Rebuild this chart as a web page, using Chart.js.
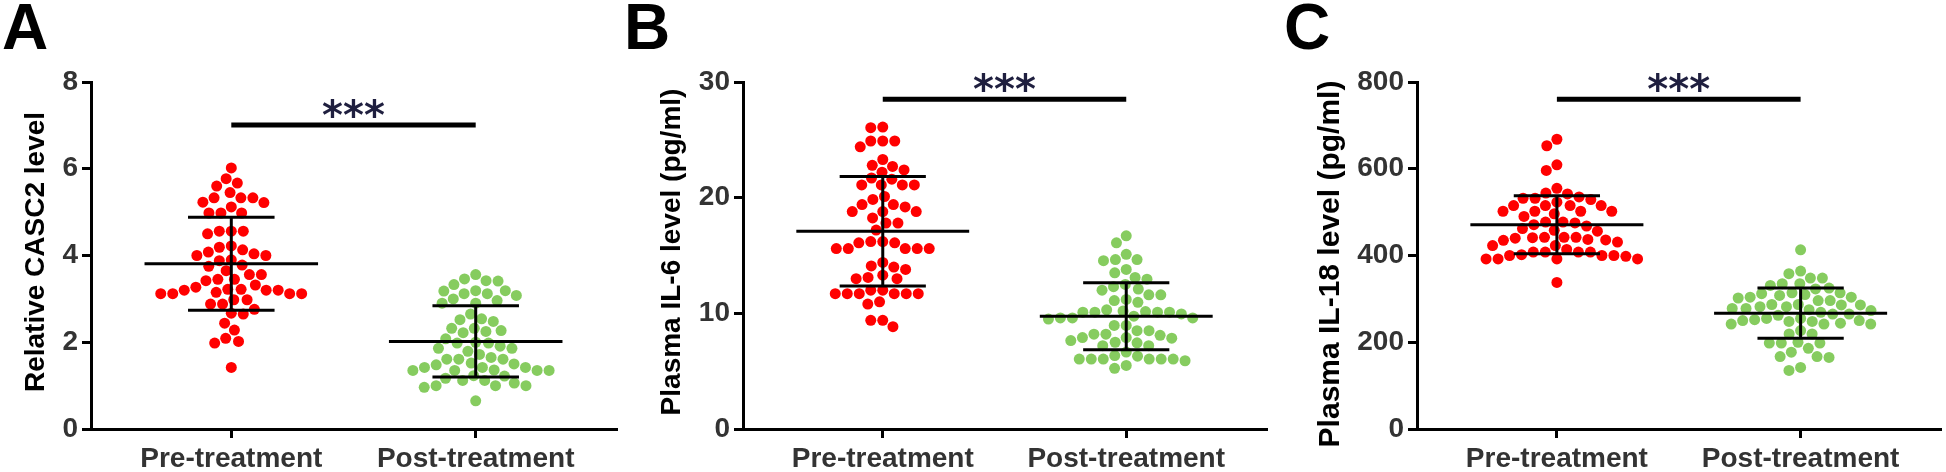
<!DOCTYPE html>
<html>
<head>
<meta charset="utf-8">
<script src="https://cdn.jsdelivr.net/npm/chart.js@4.4.1/dist/chart.umd.min.js"></script>
<style>
  body { margin: 0; background: #fff; width: 1946px; height: 472px; position: relative; overflow: hidden; }
  canvas { position: absolute; top: 0; }
</style>
</head>
<body>
<canvas id="panelA" width="622" height="472" style="left:0px"></canvas>
<canvas id="panelB" width="658" height="472" style="left:622px"></canvas>
<canvas id="panelC" width="666" height="472" style="left:1280px"></canvas>
<script>
// categories
const categories = ['Pre-treatment', 'Post-treatment'];

// A: relative CASC2 level
const casc2Pre = [6.02, 5.77, 5.67, 5.60, 5.45, 5.33, 5.33, 5.33, 5.22, 5.12, 5.23,
  4.98, 4.98, 4.98, 4.56, 4.56, 4.56, 4.50, 4.22, 4.13, 4.19, 4.08, 4.00, 4.04, 4.00,
  3.88, 3.90, 3.78, 3.75, 3.56, 3.56, 3.65, 3.45, 3.42, 3.45, 3.32, 3.27,
  3.22, 3.22, 3.20, 3.12, 3.12, 3.12, 3.12, 3.15, 3.20, 3.20,
  2.98, 2.98, 2.88, 2.88, 2.67, 2.76, 2.65, 2.44, 2.28, 2.02, 2.09, 1.98, 1.42];
const casc2Post = [3.56, 3.46, 3.42, 3.41, 3.33, 3.19, 3.12, 3.08, 3.12, 3.18, 3.19,
  2.96, 3.00, 2.90, 2.90, 2.65, 2.52, 2.54, 2.48, 2.32, 2.27, 2.22, 2.25, 2.32,
  2.08, 1.98, 1.86, 1.91, 1.79, 1.98, 2.00, 1.86,
  1.72, 1.61, 1.61, 1.50, 1.42, 1.42, 1.42, 1.48, 1.52, 1.61, 1.65,
  1.35, 1.35, 1.23, 1.17, 1.12, 1.06, 0.96, 1.12, 1.22, 1.35, 1.35, 1.36,
  1.00, 1.00, 1.00, 0.65];
const casc2Mean = [3.81, 2.02];
const casc2Sd = [1.07, 0.82];

// B: plasma IL-6
const il6Pre = [26.05, 26.1, 24.9, 24.9, 24.9, 24.4, 23.3, 22.7, 22.8, 22.4, 22.2, 21.7, 21.6,
  21.1, 21.1, 21.1, 21.1, 20.1, 19.85, 19.4, 19.4, 19.2, 18.8, 18.8, 18.8, 18.25, 17.8, 17.8, 17.2,
  16.1, 16.2, 16.2, 16.1, 15.6, 15.6, 15.6, 15.6, 15.6, 14.4, 14.1, 14.0, 13.8,
  13.1, 13.0, 13.0, 13.3, 12.0, 12.0, 11.7, 11.7, 11.7, 11.7, 11.7, 11.7, 11.0, 10.8, 9.4, 9.4, 8.85];
const il6Post = [16.7, 16.1, 15.1, 14.65, 14.55, 14.65, 13.8, 13.5, 13.1, 12.95, 12.5, 12.1, 12.3, 12.0,
  11.6, 11.6, 11.2, 11.1, 10.95, 10.2, 10.1, 10.1, 9.95, 9.6, 9.6, 9.5, 9.6, 9.75, 10.1, 10.1, 10.15, 10.3,
  8.95, 8.95, 8.5, 8.2, 8.1, 8.2, 8.5, 7.9, 7.65, 7.85, 7.9, 7.45, 7.2, 7.2, 7.5, 6.65,
  6.35, 6.05, 6.05, 6.05, 5.9, 6.05, 6.05, 6.05, 6.3, 5.25, 5.5];
const il6Mean = [17.1, 9.75];
const il6Sd = [4.73, 2.9];

// C: plasma IL-18
const il18Pre = [668, 653, 596, 609, 555, 544, 532, 529, 532, 535, 542, 515, 515, 515, 515, 523,
  502, 502, 496, 502, 502, 490, 477, 475, 468, 471, 477, 458, 462, 456,
  442, 442, 440, 436, 431, 423, 423, 435, 437, 441, 442,
  414, 408, 408, 400, 400, 392, 392, 392, 392, 398, 400, 402, 408, 408, 338];
const il18Post = [413, 364, 358, 348, 348, 331, 323, 314, 304, 308, 302, 335, 335, 296, 304, 310, 312, 314, 325,
  287, 286, 282, 278, 275, 265, 262, 255, 296, 255, 265, 269, 273, 278, 282, 286, 287,
  250, 248, 244, 242, 248, 250, 252, 227, 219, 219, 242, 242,
  200, 198, 198, 198, 186, 177, 167, 165, 167, 135, 142];
const il18Mean = [471, 267];
const il18Sd = [67, 58];

const dotColors = ['#ff0000', 'rgba(100,190,50,0.78)'];

// simple beeswarm: push each dot sideways until it no longer overlaps
function swarm(py, d) {
  const order = py.map((y, i) => i).sort((a, b) => py[a] - py[b]);
  const placed = [];
  const xs = new Array(py.length);
  order.forEach(i => {
    const y = py[i];
    const blocked = [];
    placed.forEach(p => {
      const dy = Math.abs(p.y - y);
      if (dy < d) {
        const dx = Math.sqrt(d * d - dy * dy);
        blocked.push([p.x - dx, p.x + dx]);
      }
    });
    const cands = [0];
    blocked.forEach(b => cands.push(b[0], b[1]));
    cands.sort((a, b) => Math.abs(a) - Math.abs(b));
    const x = cands.find(c => blocked.every(b => c <= b[0] + 1e-6 || c >= b[1] - 1e-6));
    xs[i] = x;
    placed.push({x: x, y: y});
  });
  return xs;
}

function makePanel(p) {
  const decor = {
    id: 'decor' + p.letter,
    afterDatasetsDraw(chart) {
      const ctx = chart.ctx;
      const xs = chart.scales.x, ys = chart.scales.y;
      ctx.save();
      ctx.strokeStyle = '#000';
      ctx.lineWidth = 3;
      // mean +- SD
      p.mean.forEach((m, g) => {
        const cx = xs.getPixelForValue(g);
        const w = xs.getPixelForValue(0.355) - xs.getPixelForValue(0);
        const cw = xs.getPixelForValue(0.177) - xs.getPixelForValue(0);
        const ym = ys.getPixelForValue(m);
        const yh = ys.getPixelForValue(m + p.sd[g]);
        const yl = ys.getPixelForValue(m - p.sd[g]);
        ctx.beginPath();
        ctx.moveTo(cx - w, ym); ctx.lineTo(cx + w, ym);
        ctx.moveTo(cx, yh); ctx.lineTo(cx, yl);
        ctx.moveTo(cx - cw, yh); ctx.lineTo(cx + cw, yh);
        ctx.moveTo(cx - cw, yl); ctx.lineTo(cx + cw, yl);
        ctx.stroke();
      });
      // significance bar
      const sy = ys.getPixelForValue(p.sig);
      const x0 = xs.getPixelForValue(0), x1 = xs.getPixelForValue(1);
      ctx.lineWidth = 5;
      ctx.beginPath();
      ctx.moveTo(x0, sy); ctx.lineTo(x1, sy);
      ctx.stroke();
      ctx.fillStyle = '#1f1f3f';
      ctx.font = 'bold 40px "DejaVu Sans"';
      ctx.textAlign = 'center';
      ctx.textBaseline = 'alphabetic';
      ctx.fillText('***', (x0 + x1) / 2, sy + 4);
      ctx.restore();
    },
    afterDraw(chart) {
      const ctx = chart.ctx;
      ctx.save();
      ctx.fillStyle = '#000';
      ctx.font = 'bold 64px "Liberation Sans"';
      ctx.textAlign = 'left';
      ctx.textBaseline = 'alphabetic';
      ctx.fillText(p.letter, p.letterX, 49);
      ctx.translate(p.titleX, p.titleY);
      ctx.rotate(-Math.PI / 2);
      ctx.font = 'bold ' + p.titleSize + 'px "Liberation Sans"';
      ctx.textAlign = 'center';
      ctx.textBaseline = 'middle';
      ctx.fillText(p.title, 0, 0);
      ctx.restore();
    }
  };

  const canvas = document.getElementById(p.id);
  const chart = new Chart(canvas, {
    type: 'scatter',
    data: {
      datasets: p.groups.map((vals, g) => ({
        data: vals.map(v => ({x: g, y: v})),
        backgroundColor: dotColors[g],
        borderWidth: 0,
        pointRadius: 5.5,
        pointHoverRadius: 5.5
      }))
    },
    options: {
      responsive: false,
      animation: false,
      layout: { padding: { top: 82, right: canvas.width - p.axisEnd, bottom: 0, left: 0 } },
      plugins: { legend: { display: false }, tooltip: { enabled: false } },
      scales: {
        x: {
          type: 'linear',
          min: -0.574,
          max: 1.574,
          afterBuildTicks: s => { s.ticks = [{value: 0}, {value: 1}]; },
          afterFit: s => { s.height = 43; },
          border: { display: true, color: '#000', width: 3 },
          grid: { drawOnChartArea: false, drawTicks: true, tickLength: 9, tickWidth: 3, tickColor: '#000', lineWidth: 3 },
          ticks: {
            autoSkip: false, maxRotation: 0, padding: 4,
            color: '#333', font: { family: 'Liberation Sans', size: 28, weight: 'bold' },
            callback: v => categories[v]
          }
        },
        y: {
          min: 0,
          max: p.yMax,
          afterFit: s => { s.width = p.axisLeft; },
          border: { display: true, color: '#000', width: 3 },
          grid: { drawOnChartArea: false, drawTicks: true, tickLength: 9, tickWidth: 3, tickColor: '#000', lineWidth: 3 },
          ticks: {
            stepSize: p.step, padding: 4,
            color: '#333', font: { family: 'Liberation Sans', size: 28, weight: 'bold' }
          }
        }
      }
    },
    plugins: [decor]
  });

  // lay the dots out as a swarm using the chart's own scales
  const xs = chart.scales.x, ys = chart.scales.y;
  chart.data.datasets.forEach((ds, g) => {
    const cx = xs.getPixelForValue(g);
    const py = ds.data.map(pt => ys.getPixelForValue(pt.y));
    const off = swarm(py, 12);
    ds.data.forEach((pt, i) => { pt.x = xs.getValueForPixel(cx + off[i]); });
  });
  chart.update('none');
}

makePanel({ id: 'panelA', letter: 'A', letterX: 2, groups: [casc2Pre, casc2Post], mean: casc2Mean, sd: casc2Sd,
  yMax: 8, step: 2, sig: 7.01, axisLeft: 91, axisEnd: 616,
  title: 'Relative CASC2 level', titleX: 36, titleY: 252, titleSize: 28 });
makePanel({ id: 'panelB', letter: 'B', letterX: 2, groups: [il6Pre, il6Post], mean: il6Mean, sd: il6Sd,
  yMax: 30, step: 10, sig: 28.5, axisLeft: 121, axisEnd: 644,
  title: 'Plasma IL-6 level (pg/ml)', titleX: 50, titleY: 252, titleSize: 28 });
makePanel({ id: 'panelC', letter: 'C', letterX: 4, groups: [il18Pre, il18Post], mean: il18Mean, sd: il18Sd,
  yMax: 800, step: 200, sig: 760, axisLeft: 137, axisEnd: 663,
  title: 'Plasma IL-18 level (pg/ml)', titleX: 51, titleY: 264, titleSize: 30 });
</script>
</body>
</html>
